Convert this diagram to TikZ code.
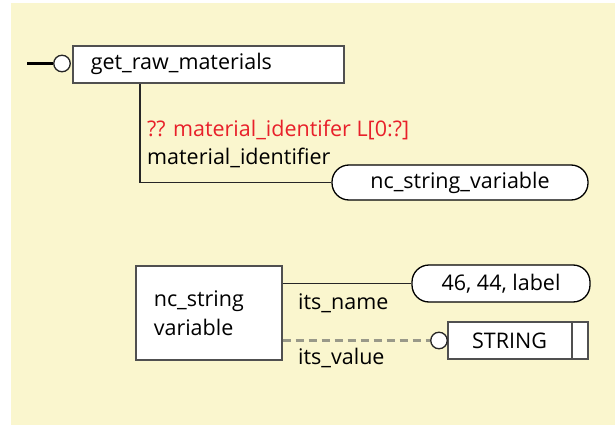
\documentclass[tikz,border=0pt]{standalone}
\usepackage{fontspec}
\setmainfont{Open Sans}
\usetikzlibrary{calc}
\definecolor{bgyel}{HTML}{FAF6CE}
\definecolor{bordgray}{HTML}{505050}
\definecolor{redtxt}{HTML}{E8202A}
\definecolor{dashgray}{HTML}{999989}
\newcommand{\fnt}{\fontsize{21.5}{24}\selectfont}
\tikzset{
  box/.style={draw=bordgray, line width=1.6pt, fill=white, rectangle, inner sep=0pt, font=\fnt},
  oval/.style={draw=black, line width=1.3pt, fill=white, rounded corners=17pt, inner sep=0pt, font=\fnt},
  lbl/.style={anchor=west, inner sep=0pt, font=\fnt},
  conn/.style={draw=black!85, line width=1.4pt},
  ring/.style={draw=black!85, line width=1.3pt, fill=white, circle, minimum size=16.5pt, inner sep=0pt},
}
\begin{document}
\begin{tikzpicture}[x=1pt,y=-1pt]
\useasboundingbox (0,0) rectangle (615,425);
\fill[bgyel] (11,3) rectangle (615,425);
% top entity
\node[box, anchor=north west, minimum width=271pt, minimum height=37pt, text width=235pt, inner xsep=18pt, align=left] (grm) at (72,45) {get\_raw\_materials};
\node[ring] (c1) at (62,63.5) {};
\coordinate (s1) at (27,63.5);
\draw[black, line width=3pt] (s1) -- (c1.west);
% oval
\node[oval, minimum width=256pt, minimum height=35pt] (ncv) at (460,182.5) {nc\_string\_variable};
\draw[conn] ($(grm.south west)+(68,0)$) |- (ncv.west);
\node[lbl, text=redtxt] (red) at (147,130) {?? material\_identifer L[0:?]};
\node[lbl] (mid) at (147,158) {material\_identifier};
% nc_string variable
\node[box, anchor=north west, minimum width=146pt, minimum height=94pt, text width=110pt, inner xsep=18pt, align=left, font=\fontsize{21.5}{29}\selectfont] (nsv) at (135,265) {nc\_string\\variable};
\node[oval, minimum width=178pt, minimum height=37pt] (lab) at (501,283.5) {46, 44, label};
\draw[conn] (nsv.east |- lab.west) -- (lab.west);
\node[lbl] (itsn) at (298,303) {its\_name};
% STRING
\node[box, minimum width=140pt, minimum height=37pt] (str) at (518,340.5) {};
\draw[bordgray, line width=1.6pt] ($(str.north east)+(-17,0)$) -- ($(str.south east)+(-17,0)$);
\node[inner sep=0pt, font=\fnt] (strt) at ($(str.center)+(-8.5,0)$) {STRING};
\node[ring] (c2) at (439,340.5) {};
\draw[dashgray, line width=2.6pt, dash pattern=on 8pt off 5pt] (nsv.east |- c2.west) -- (c2.west);
\node[lbl] (itsv) at (298,358) {its\_value};
\end{tikzpicture}
\end{document}
